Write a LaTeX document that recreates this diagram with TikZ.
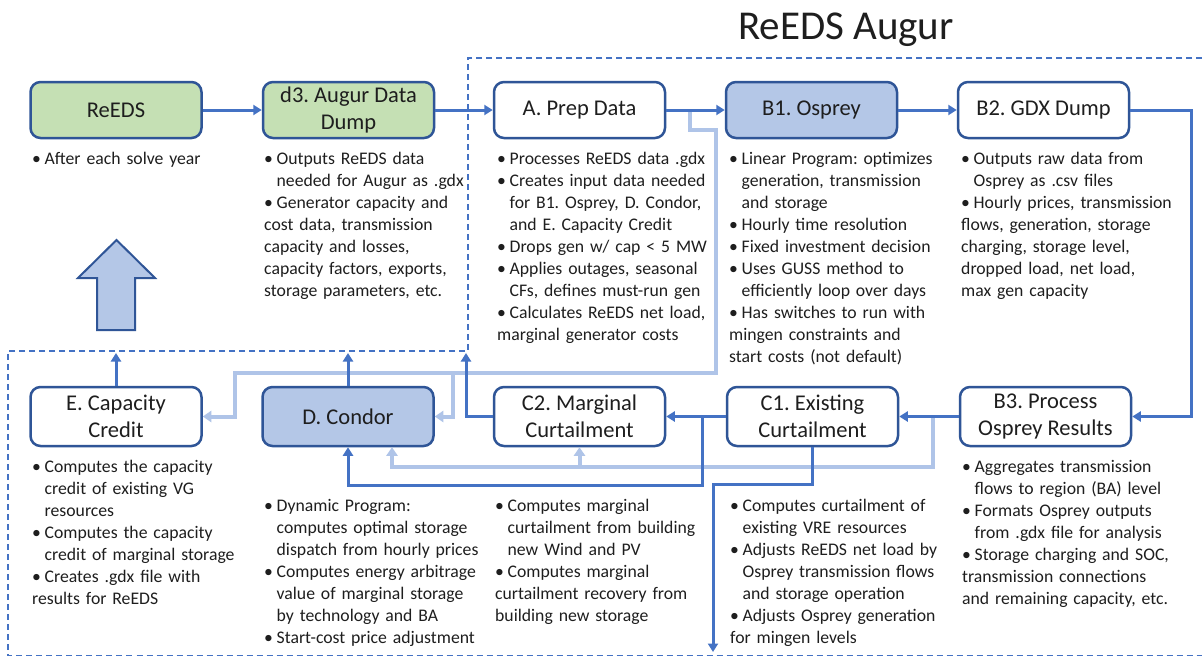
\documentclass[tikz,border=0pt]{standalone}
\usepackage{fontspec}
\setmainfont{Carlito}
\usetikzlibrary{arrows.meta}
\definecolor{dkblue}{HTML}{4472C4}
\definecolor{bdblue}{HTML}{2F5597}
\definecolor{ltblue}{HTML}{AFC4E8}
\definecolor{gfill}{HTML}{C5E0B4}
\definecolor{bfill}{HTML}{B4C7E7}
\definecolor{txt}{HTML}{1E1E1E}
\newcommand{\bi}{\par\hangindent=12.5pt\hangafter=1\noindent\hbox to 12.5pt{\textbullet\hfil}}
\begin{document}
\begin{tikzpicture}[x=1pt,y=-1pt,
  box/.style={draw=bdblue, line width=2.5pt, rounded corners=10pt, minimum width=171pt,
    align=center, font=\fontsize{22.5}{27.5}\selectfont\frenchspacing, text=txt, inner sep=1pt},
  toprow/.style={box, minimum height=56pt},
  botrow/.style={box, minimum height=59pt},
  greenbox/.style={fill=gfill},
  bluebox/.style={fill=bfill},
  whitebox/.style={fill=white},
  bullets/.style={anchor=base west, text width=280pt, inner sep=0pt, text=txt,
    font=\fontsize{17.7}{22}\selectfont\frenchspacing},
  dk/.style={draw=dkblue, line width=3pt, -{Triangle[length=8.5pt,width=10pt]}},
  lt/.style={draw=ltblue, line width=4pt, -{Triangle[length=8.5pt,width=11pt]}},
  boundary/.style={draw=dkblue, line width=1.3pt, dash pattern=on 6pt off 4pt},
  bigarrow/.style={draw=bdblue, fill=bfill, line width=2pt, line join=miter}
]
\useasboundingbox (0,0) rectangle (1202,656);
\fill[white] (0,0) rectangle (1202,656);

% dashed boundary of the Augur region
\draw[boundary] (1202,58) -- (468,58) -- (468,351) -- (8,351) -- (8,655.5) -- (1202,655.5);

% title
\node[text=txt, font=\fontsize{41}{44}\selectfont] (title) at (846,30) {ReEDS Augur};

% boxes
\node[toprow, greenbox] (reeds) at (116,110) {ReEDS};
\node[toprow, greenbox] (d3) at (348.5,110) {d3. Augur Data\\Dump};
\node[toprow, whitebox] (A) at (579.5,110) {A. Prep Data};
\node[toprow, bluebox] (B1) at (811.5,110) {B1. Osprey};
\node[toprow, whitebox] (B2) at (1043.5,110) {B2. GDX Dump};

\node[botrow, whitebox] (E) at (116,416.5) {E. Capacity\\Credit};
\node[botrow, bluebox] (D) at (348,416.5) {D. Condor};
\node[botrow, whitebox] (C2) at (579.5,416.5) {C2. Marginal\\Curtailment};
\node[botrow, whitebox] (C1) at (812.5,416.5) {C1. Existing\\Curtailment};
\node[botrow, whitebox] (B3) at (1045.5,416.5) {B3. Process\\Osprey Results};

% helper coordinates
\coordinate (bnd) at (0,353);
\coordinate (la1) at (690,112);
\coordinate (la2) at (690,130);
\coordinate (la3) at (716,130);
\coordinate (la4) at (716,373);
\coordinate (la5) at (235,373);
\coordinate (lbr) at (453,373);
\coordinate (j2) at (933,416.5);
\coordinate (dlin) at (392,467);
\coordinate (br) at (1191,110);
\coordinate (c2up) at (466,353);
\coordinate (j1) at (702,416.5);
\coordinate (j1b) at (702,485);
\coordinate (c1b) at (812.5,484);
\coordinate (out) at (713,652);

% light connectors
\draw[lt] (la1) -- (la2) -- (la3) -- (la4) -- (la5) |- (E.east);
\draw[lt] (lbr) |- (D.east);
\draw[lt] (j2) |- (dlin) -- (dlin |- D.south);
\draw[lt] (C2.south |- dlin) -- (C2.south);

% dark connectors
\draw[dk] (reeds) -- (d3);
\draw[dk] (d3) -- (A);
\draw[dk] (A) -- (B1);
\draw[dk] (B1) -- (B2);
\draw[dk] (B2.east) -- (br) |- (B3.east);
\draw[dk] (B3) -- (C1);
\draw[dk] (C1) -- (C2);
\draw[dk] (C2.west) -| (c2up);
\draw[dk] (D.north) -- (D.north |- bnd);
\draw[dk] (E.north) -- (E.north |- bnd);
\draw[dk] (j1) -- (j1b) -| (D.south);
\draw[dk] (C1.south) -- (c1b) -| (out);

% big hollow arrow back to ReEDS
\draw[bigarrow] (97,330) -- (97,278) -- (78,278) -- (116.5,240) -- (155,278) -- (135,278) -- (135,330) -- cycle;

% bullet texts
\node[bullets] (treeds) at (32,142) {\bi After each solve year};
\node[bullets] (td3) at (264,142) {\bi Outputs ReEDS data\newline needed for Augur as .gdx
 \bi Generator capacity and\newline cost data, transmission\newline capacity and losses,\newline capacity factors, exports,\newline storage parameters, etc.};
\node[bullets] (tA) at (497,142) {\bi Processes ReEDS data .gdx
 \bi Creates input data needed\newline for B1. Osprey, D. Condor,\newline and E. Capacity Credit
 \bi Drops gen w/ cap < 5 MW
 \bi Applies outages, seasonal\newline CFs, defines must-run gen
 \bi Calculates ReEDS net load,\newline marginal generator costs};
\node[bullets] (tB1) at (729,142) {\bi Linear Program: optimizes\newline generation, transmission\newline and storage
 \bi Hourly time resolution
 \bi Fixed investment decision
 \bi Uses GUSS method to\newline efficiently loop over days
 \bi Has switches to run with\newline mingen constraints and\newline start costs (not default)};
\node[bullets] (tB2) at (961,142) {\bi Outputs raw data from\newline Osprey as .csv files
 \bi Hourly prices, transmission\newline flows, generation, storage\newline charging, storage level,\newline dropped load, net load,\newline max gen capacity};
\node[bullets] (tE) at (32,450) {\bi Computes the capacity\newline credit of existing VG\newline resources
 \bi Computes the capacity\newline credit of marginal storage
 \bi Creates .gdx file with\newline results for ReEDS};
\node[bullets] (tD) at (264,489) {\bi Dynamic Program:\newline computes optimal storage\newline dispatch from hourly prices
 \bi Computes energy arbitrage\newline value of marginal storage\newline by technology and BA
 \bi Start-cost price adjustment};
\node[bullets] (tC2) at (495,489) {\bi Computes marginal\newline curtailment from building\newline new Wind and PV
 \bi Computes marginal\newline curtailment recovery from\newline building new storage};
\node[bullets] (tC1) at (730,489) {\bi Computes curtailment of\newline existing VRE resources
 \bi Adjusts ReEDS net load by\newline Osprey transmission flows\newline and storage operation
 \bi Adjusts Osprey generation\newline for mingen levels};
\node[bullets] (tB3) at (962,450) {\bi Aggregates transmission\newline flows to region (BA) level
 \bi Formats Osprey outputs\newline from .gdx file for analysis
 \bi Storage charging and SOC,\newline transmission connections\newline and remaining capacity, etc.};
\end{tikzpicture}
\end{document}
